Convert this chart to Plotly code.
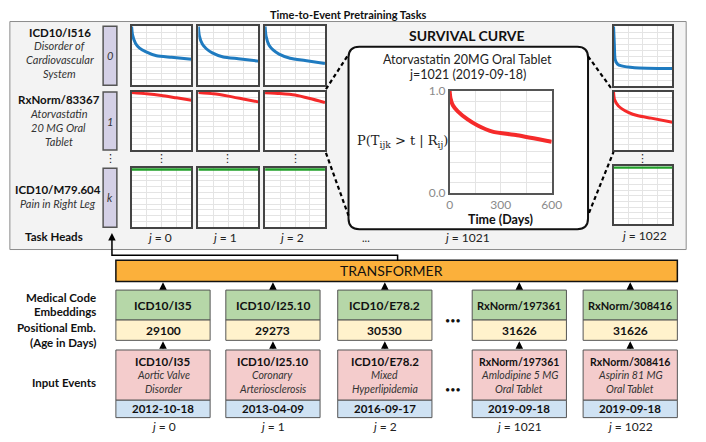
import plotly.graph_objects as go

W, H = 706, 442
FONT = "Lato"
BLUE = "#1f7bc0"
RED = "#f52a2a"
GREEN = "#22a02a"

# ---------------- data ----------------
task_codes = ["ICD10/I516", "RxNorm/83367", "ICD10/M79.604"]
task_desc_0 = ["Disorder of", "Cardiovascular", "System"]
task_desc_1 = ["Atorvastatin", "20 MG Oral", "Tablet"]
task_desc_k = ["Pain in Right Leg"]
task_ids = ["0", "1", "k"]
head_cols = ["0", "1", "2", "1022"]

# survival curves of the small task-head panels (time in days, probability)
t_blue = [0, 10, 40, 80, 140, 250, 400, 600]
blue_j0 = [1.0, 0.85, 0.71, 0.63, 0.57, 0.50, 0.475, 0.44]
blue_j1 = [1.0, 0.84, 0.70, 0.62, 0.55, 0.48, 0.45, 0.41]
blue_j2 = [1.0, 0.83, 0.68, 0.60, 0.53, 0.46, 0.42, 0.37]
t_blue_1022 = [0, 8, 16, 40, 82, 214, 600]
blue_j1022 = [1.0, 0.70, 0.45, 0.37, 0.34, 0.31, 0.295]

t_red = [0, 150, 300, 450, 600]
red_j0 = [0.99, 0.97, 0.94, 0.90, 0.86]
red_j1 = [0.99, 0.97, 0.93, 0.88, 0.83]
red_j2 = [0.99, 0.975, 0.95, 0.89, 0.82]
t_red_1022 = [0, 10, 50, 150, 250, 383, 600]
red_j1022 = [1.0, 0.87, 0.76, 0.65, 0.59, 0.55, 0.48]

t_green = [0, 600]
green_flat = [1.0, 1.0]

# enlarged survival curve (j = 1021)
t_big = [0, 5, 19, 48, 106, 165, 252, 397, 600]
big_red = [1.0, 0.93, 0.86, 0.80, 0.72, 0.66, 0.60, 0.565, 0.50]
big_xticks = [0, 300, 600]
big_yticks = [0.0, 1.0]

# input events
event_codes = ["ICD10/I35", "ICD10/I25.10", "ICD10/E78.2", "RxNorm/197361", "RxNorm/308416"]
event_ages = ["29100", "29273", "30530", "31626", "31626"]
event_desc = [["Aortic Valve", "Disorder"], ["Coronary", "Arteriosclerosis"],
              ["Mixed", "Hyperlipidemia"], ["Amlodipine 5 MG", "Oral Tablet"],
              ["Aspirin 81 MG", "Oral Tablet"]]
event_dates = ["2012-10-18", "2013-04-09", "2016-09-17", "2019-09-18", "2019-09-18"]
event_j = ["0", "1", "2", "1021", "1022"]

# ---------------- helpers ----------------
fig = go.Figure()
layout_axes = {}
shapes = []
annots = []


def X(px):
    return px / W


def Y(py):
    return 1 - py / H


def rect(x0, y0, x1, y1, fill, line="#444", lw=1.0):
    shapes.append(dict(type="rect", xref="x", yref="y", x0=x0, y0=y0, x1=x1, y1=y1,
                       fillcolor=fill, line=dict(color=line, width=lw), layer="below"))


def seg(path, color="#000", lw=1.5, dash=None):
    shapes.append(dict(type="path", xref="x", yref="y", path=path,
                       line=dict(color=color, width=lw, dash=dash), layer="above"))


def text(x, y, s, size=11, color="#111", bold=False, italic=False,
         xanchor="center", family=FONT):
    if bold:
        s = f"<b>{s}</b>"
    if italic:
        s = f"<i>{s}</i>"
    annots.append(dict(x=x, y=y, xref="x", yref="y", text=s, showarrow=False,
                       xanchor=xanchor, yanchor="middle",
                       font=dict(size=size, color=color, family=family)))


def arrow(x, y_head, y_tail, lw=1.5):
    annots.append(dict(x=x, y=y_head, ax=x, ay=y_tail, xref="x", yref="y",
                       axref="x", ayref="y", text="", showarrow=True, arrowhead=2,
                       arrowsize=1, arrowwidth=lw, arrowcolor="#000", standoff=0))


ax_count = [1]


def panel(px0, px1, py0, py1, xs, ys, color, lw, yr=(0, 1), big=False, top_layer=False):
    ax_count[0] += 1
    n = ax_count[0]
    fig.add_trace(go.Scatter(x=xs, y=ys, mode="lines",
                             line=dict(color=color, width=lw, shape="spline", smoothing=0.6),
                             xaxis=f"x{n}", yaxis=f"y{n}", hoverinfo="skip",
                             showlegend=False))
    common = dict(showline=True, mirror=True, linecolor="#444", linewidth=1.5,
                  showgrid=True, gridcolor="#e4e4e4", gridwidth=1, zeroline=False,
                  ticks="", fixedrange=True,
                  layer="below traces" if top_layer else "above traces")
    xa = dict(domain=[X(px0), X(px1)], range=[0, 600], anchor=f"y{n}",
              tickvals=[0, 150, 300, 450, 600], **common)
    ya = dict(domain=[Y(py1), Y(py0)], range=list(yr), anchor=f"x{n}",
              tickvals=[i / 10 for i in range(11)], **common)
    if big:
        xa["ticktext"] = [str(v) if v in big_xticks else "" for v in xa["tickvals"]]
        ya["ticktext"] = [f"{v:.1f}" if v in big_yticks else "" for v in ya["tickvals"]]
        xa["tickfont"] = dict(size=12, color="#8a8a8a", family=FONT)
        ya["tickfont"] = dict(size=12, color="#8a8a8a", family=FONT)
        xa["linecolor"] = ya["linecolor"] = "#555"
    else:
        xa["showticklabels"] = False
        ya["showticklabels"] = False
        rect(px0, py0, px1, py1, "white", line="rgba(0,0,0,0)", lw=0)
    layout_axes[f"xaxis{n}"] = xa
    layout_axes[f"yaxis{n}"] = ya


# ---------------- top section ----------------
rect(7, 14, 696, 250, "#f3f3f3", line="#8c8c8c", lw=1)
text(352, 7, "Time-to-Event Pretraining Tasks", size=11, bold=True)

# task labels
text(58, 25, task_codes[0], size=11.5, bold=True)
for i, s in enumerate(task_desc_0):
    text(58, 39 + 14.5 * i, s, size=11, italic=True, color="#333")
text(57, 95, task_codes[1], size=11.5, bold=True)
for i, s in enumerate(task_desc_1):
    text(57, 109 + 14.5 * i, s, size=11, italic=True, color="#333")
text(56, 188, task_codes[2], size=11.5, bold=True)
for i, s in enumerate(task_desc_k):
    text(56, 202, s, size=11, italic=True, color="#333")
text(52, 237, "Task Heads", size=11.5, bold=True)

# task head bars
row_y = [(19, 80), (87, 147), (166, 227)]
for (y0, y1), tid in zip(row_y, task_ids):
    rect(102, y0, 116, y1, "#d4d0e6", line="#555", lw=1.5)
    text(109, (y0 + y1) / 2, tid, size=11, italic=True, color="#333")

# small panels
col_x = [(131, 192), (199, 260), (267, 328)]
blue_set = [blue_j0, blue_j1, blue_j2]
red_set = [red_j0, red_j1, red_j2]
for (x0, x1), b, r in zip(col_x, blue_set, red_set):
    panel(x0, x1, 19, 80, t_blue, b, BLUE, 3)
    panel(x0, x1, 87, 147, t_red, r, RED, 3)
    panel(x0, x1, 166, 227, t_green, green_flat, GREEN, 3, yr=(0, 1.015), top_layer=True)
panel(622, 682, 19, 81, t_blue_1022, blue_j1022, BLUE, 3)
panel(622, 682, 87, 147, t_red_1022, red_j1022, RED, 3)
panel(622, 682, 164, 224, t_green, green_flat, GREEN, 3, yr=(0, 1.015), top_layer=True)

# column labels
for cx, j in zip([159, 226, 294], head_cols[:3]):
    text(cx, 238, f"<i>j</i> = {j}", size=12, color="#222")
text(653, 235, f"<i>j</i> = {head_cols[3]}", size=12, color="#222")
text(370, 238, "...", size=11, color="#222")
text(473, 238, "<i>j</i> = 1021", size=12, color="#222")

# vertical ellipses
for cx in [110, 161, 229, 298, 652]:
    text(cx, 156, "⋮", size=11, color="#222", family="DejaVu Sans")

# big survival box
bx0, bx1, by0, by1, r = 352, 596, 40, 229, 11
shapes.append(dict(type="path", xref="x", yref="y", layer="below",
                   path=(f"M {bx0+r},{by0} L {bx1-r},{by0} Q {bx1},{by0} {bx1},{by0+r} "
                         f"L {bx1},{by1-r} Q {bx1},{by1} {bx1-r},{by1} L {bx0+r},{by1} "
                         f"Q {bx0},{by1} {bx0},{by1-r} L {bx0},{by0+r} Q {bx0},{by0} {bx0+r},{by0} Z"),
                   fillcolor="white", line=dict(color="#111", width=2)))
text(473, 28, "SURVIVAL CURVE", size=14, bold=True)
text(473, 53, "Atorvastatin 20MG Oral Tablet", size=12.5, color="#222")
text(473, 69, "j=1021 (2019-09-18)", size=12.5, color="#222")
panel(455, 559, 86, 191, t_big, big_red, RED, 4, big=True)
text(507, 219, "Time (Days)", size=12.5, bold=True)
text(407, 138, "P(T<sub>ijk</sub> > t | R<sub>ij</sub>)", size=13,
     family="DejaVu Serif", color="#222")

# dotted zoom lines
DOT = "4px,3px"
seg("M 329,84 L 352,48", lw=2.2, dash=DOT)
seg("M 329,150 L 352,215", lw=2.2, dash=DOT)
seg("M 596,50 L 621,85", lw=2.2, dash=DOT)
seg("M 597,212 L 622,149", lw=2.2, dash=DOT)

# connector from transformer to task heads
seg("M 402,262 L 402,256 L 111,256 L 111,240", lw=1.5)
arrow(111, 233, 241)

# ---------------- bottom section ----------------
rect(115, 261, 687, 283, "#fbb03b", line="#111", lw=1.5)
text(396, 272, "TRANSFORMER", size=14, color="#111")

text(97, 300, "Medical Code", size=11.5, bold=True, xanchor="right")
text(97, 314, "Embeddings", size=11.5, bold=True, xanchor="right")
text(97, 331, "Positional Emb.", size=11.5, bold=True, xanchor="right")
text(97, 346, "(Age in Days)", size=11.5, bold=True, xanchor="right")
text(97, 388, "Input Events", size=11.5, bold=True, xanchor="right")

col_left = [115, 227, 341, 478, 591]
BW = 96
for i, x0 in enumerate(col_left):
    x1 = x0 + BW
    cx = (x0 + x1) / 2
    rect(x0, 292, x1, 323, "#b6d7a8", line="#555", lw=1)
    rect(x0, 323, x1, 344, "#fff2cc", line="#555", lw=1)
    rect(x0, 354, x1, 406, "#f4cccc", line="#555", lw=1)
    rect(x0, 406, x1, 424, "#cfe2f3", line="#555", lw=1)
    code_size = 11 if event_codes[i].startswith("Rx") else 12
    text(cx, 307.5, event_codes[i], size=code_size, bold=True)
    text(cx, 333.5, event_ages[i], size=12, bold=True)
    text(cx, 366, event_codes[i], size=code_size - 0.5, bold=True)
    text(cx, 380, event_desc[i][0], size=10.5, italic=True, color="#333")
    text(cx, 394, event_desc[i][1], size=10.5, italic=True, color="#333")
    text(cx, 415, event_dates[i], size=11.5, bold=True)
    text(cx, 433, f"<i>j</i> = {event_j[i]}", size=12, color="#222")
    arrow(cx, 284, 292)
    arrow(cx, 345, 354)

text(458, 323, "•••", size=9, color="#111")
text(458, 395, "•••", size=9, color="#111")

# invisible trace on base axes
fig.add_trace(go.Scatter(x=[0], y=[0], mode="markers", marker=dict(opacity=0),
                         hoverinfo="skip", showlegend=False, xaxis="x", yaxis="y"))

fig.update_layout(
    width=W, height=H, autosize=False,
    margin=dict(l=0, r=0, t=0, b=0),
    paper_bgcolor="white", plot_bgcolor="rgba(0,0,0,0)",
    xaxis=dict(domain=[0, 1], range=[0, W], visible=False, fixedrange=True),
    yaxis=dict(domain=[0, 1], range=[H, 0], visible=False, fixedrange=True),
    shapes=shapes, annotations=annots, showlegend=False,
    font=dict(family=FONT),
    **layout_axes,
)

fix_js = (
    "document.documentElement.style.margin='0';"
    "document.documentElement.style.padding='0';"
    "document.documentElement.style.overflow='hidden';"
    "document.body.style.margin='0';document.body.style.padding='0';"
    "document.body.style.overflow='hidden';"
    "var gd=document.getElementsByClassName('plotly-graph-div')[0];"
    "gd.style.position='fixed';gd.style.left='0px';gd.style.top='0px';"
)
fig.write_html("out.html", config={"displayModeBar": False}, post_script=fix_js)
